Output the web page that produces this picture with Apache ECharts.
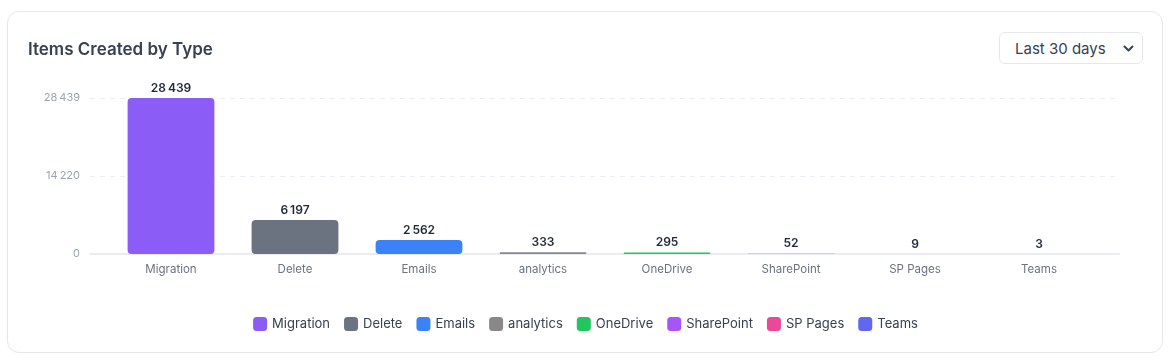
<!DOCTYPE html>
<html><head><meta charset="utf-8">
<script src="https://cdn.jsdelivr.net/npm/echarts@6/dist/echarts.min.js"></script>
<style>
html,body{margin:0;padding:0;background:#fff;width:1171px;height:361px;overflow:hidden;font-family:Inter,"Noto Sans",sans-serif;}
#card{position:absolute;left:7px;top:11px;width:1156px;height:342px;border:1px solid #e5e7eb;border-radius:12px;box-sizing:border-box;}
#chart{position:absolute;left:0;top:0;width:1171px;height:361px;}
#sel{position:absolute;left:999px;top:32px;width:144px;height:32px;box-sizing:border-box;border:1px solid #e5e7eb;border-radius:6px;background:#fff;font-size:15px;color:#374151;line-height:32px;padding-left:15px;}
#sel svg{position:absolute;right:8px;top:12px;}
</style></head>
<body>
<div id="card"></div>
<div id="chart"></div>
<div id="sel">Last 30 days<svg width="11" height="8" viewBox="0 0 11 8"><path d="M1.5 1.5 L5.5 5.5 L9.5 1.5" fill="none" stroke="#374151" stroke-width="2" stroke-linecap="round" stroke-linejoin="round"/></svg></div>
<script>
const categories = ["Migration","Delete","Emails","analytics","OneDrive","SharePoint","SP Pages","Teams"];
const values = [28439, 6197, 2562, 333, 295, 52, 9, 3];
const colors = ["#8b5cf6","#6b7280","#3b82f6","#888888","#22c55e","#a855f7","#ec4899","#6366f1"];
const yTicks = [0, 14220, 28439];

const fmt = v => String(Math.round(v)).replace(/\B(?=(\d{3})+(?!\d))/g, "\u202F");
const yMax = yTicks[yTicks.length-1];

const series = categories.map((c,i)=>({
  name:c, type:'bar', stack:'total', xAxisIndex:1, yAxisIndex:1,
  barCategoryGap:'30%',
  data: categories.map((_,j)=> j===i ? values[j] : '-'),
  itemStyle:{color:colors[i], borderRadius:4},
  label:{show:true, position:'top', distance:4, color:'#1f2937', fontSize:12, fontWeight:600, fontFamily:'Inter', formatter:p=>fmt(p.value)}
}));

const chart = echarts.init(document.getElementById('chart'), null, {renderer:'canvas'});
chart.setOption({
  animation:false,
  title:{text:'Items Created by Type', left:23, top:36, textStyle:{fontFamily:'Inter', fontSize:17, fontWeight:600, color:'#374151'}},
  legend:{data:categories, bottom:25, left:'center', icon:'roundRect', itemWidth:14, itemHeight:14, itemGap:14,
    textStyle:{fontFamily:'Inter', fontSize:13, color:'#374151'}},
  grid:[
    {left:90, right:52, top:98, height:156},
    {left:109, right:70, top:98, height:156}
  ],
  xAxis:[
    {type:'category', gridIndex:0, data:categories, axisLine:{show:true, lineStyle:{color:'#ebebf3', width:2}}, axisTick:{show:false}, axisLabel:{show:false}},
    {type:'category', gridIndex:1, data:categories, axisLine:{show:false}, axisTick:{show:false},
      axisLabel:{margin:10, color:'#6b7280', fontSize:11.5, fontFamily:'Inter'}}
  ],
  yAxis:[
    {type:'value', gridIndex:0, min:0, max:yMax, interval:yMax/2,
      axisLine:{show:false}, axisTick:{show:false},
      axisLabel:{margin:10, color:'#9ca3af', fontSize:11, fontFamily:'Inter', formatter:v=>fmt(v)},
      splitLine:{show:true, lineStyle:{color:'#ececf1', type:[5,5], width:1}}},
    {type:'value', gridIndex:1, min:0, max:yMax, show:false, splitLine:{show:false}}
  ],
  series: series
});
</script>
</body></html>
